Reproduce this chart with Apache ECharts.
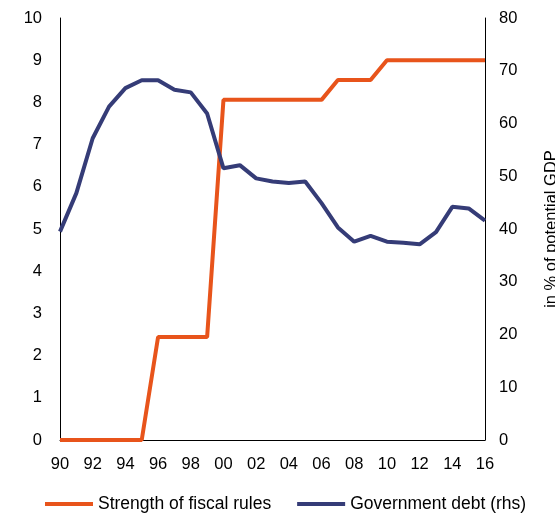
<!DOCTYPE html>
<html>
<head>
<meta charset="utf-8">
<script src="https://cdn.jsdelivr.net/npm/echarts@6/dist/echarts.min.js"></script>
<style>html,body{margin:0;padding:0;background:#fff}#chart{width:555px;height:515px}</style>
</head>
<body>
<div id="chart"></div>
<script>
const years = ['90','91','92','93','94','95','96','97','98','99','00','01','02','03','04','05','06','07','08','09','10','11','12','13','14','15','16'];
const fiscalRules = [0,0,0,0,0,0,2.44,2.44,2.44,2.44,8.06,8.06,8.06,8.06,8.06,8.06,8.06,8.53,8.53,8.53,9,9,9,9,9,9,9];
const govDebt = [39.5,46.8,57.2,63.2,66.7,68.2,68.2,66.4,65.9,61.9,51.5,52.1,49.6,49.0,48.7,49.0,44.9,40.3,37.6,38.7,37.6,37.4,37.1,39.4,44.2,43.9,41.6];

const font = 'Liberation Sans, Arial, sans-serif';
const axisLine = {show: true, lineStyle: {color: '#000', width: 1}};
echarts.init(document.getElementById('chart')).setOption({
    animation: false,
    grid: {left: 60, right: 70, top: 18, bottom: 75, outerBoundsMode: 'none'},
    legend: {
        top: 490,
        left: 40,
        itemGap: 26,
        itemWidth: 48,
        itemHeight: 4,
        icon: 'rect',
        textStyle: {fontFamily: font, fontSize: 17.5, color: '#000'},
        data: ['Strength of fiscal rules', 'Government debt (rhs)']
    },
    xAxis: {
        type: 'category',
        boundaryGap: false,
        data: years,
        axisLine: axisLine,
        axisTick: {show: false},
        axisLabel: {interval: 1, color: '#000', fontFamily: font, fontSize: 16.5, margin: 16}
    },
    yAxis: [{
        type: 'value',
        min: 0, max: 10, interval: 1,
        axisLine: axisLine,
        axisTick: {show: false},
        splitLine: {show: false},
        axisLabel: {color: '#000', fontFamily: font, fontSize: 16.5, margin: 18}
    }, {
        type: 'value',
        min: 0, max: 80, interval: 10,
        axisLine: axisLine,
        axisTick: {show: false},
        splitLine: {show: false},
        axisLabel: {color: '#000', fontFamily: font, fontSize: 16.5, margin: 14},
        name: 'in % of potential GDP',
        nameLocation: 'middle',
        nameRotate: 90,
        nameGap: 58,
        nameTextStyle: {color: '#000', fontFamily: font, fontSize: 16.5}
    }],
    series: [{
        name: 'Strength of fiscal rules',
        type: 'line',
        data: fiscalRules,
        symbol: 'none',
        lineStyle: {color: '#E8541B', width: 4},
        itemStyle: {color: '#E8541B'}
    }, {
        name: 'Government debt (rhs)',
        type: 'line',
        yAxisIndex: 1,
        data: govDebt,
        symbol: 'none',
        lineStyle: {color: '#353C77', width: 4},
        itemStyle: {color: '#353C77'}
    }]
});
</script>
</body>
</html>
